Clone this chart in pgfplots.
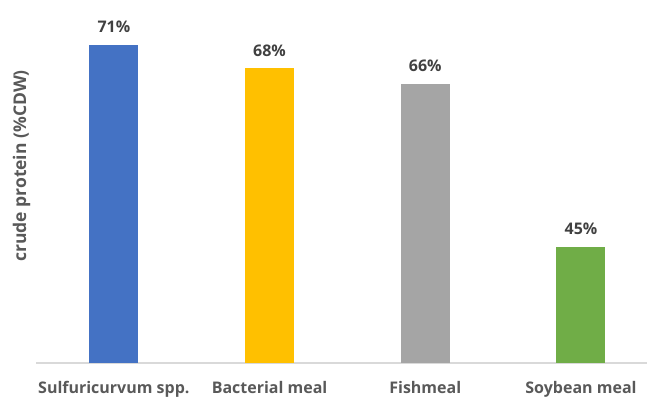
\documentclass[border=0pt]{standalone}
\usepackage{fontspec}
\setmainfont{Open Sans}
\usepackage{pgfplots}
\pgfplotsset{compat=1.18}
\definecolor{barblue}{HTML}{4472C4}
\definecolor{baryellow}{HTML}{FFC000}
\definecolor{bargray}{HTML}{A5A5A5}
\definecolor{bargreen}{HTML}{70AD47}
\definecolor{labelgray}{HTML}{595959}
\definecolor{valgray}{HTML}{404040}
\definecolor{axisgray}{HTML}{D9D9D9}
\begin{document}
\begin{tikzpicture}
\useasboundingbox (0,0) rectangle (647bp,398bp);
\begin{axis}[
  at={(36bp,35bp)}, anchor=south west,
  scale only axis, width=611bp, height=363bp,
  xmin=-0.5, xmax=3.424, ymin=30, ymax=76.8,
  axis y line=none, axis x line*=bottom,
  x axis line style={axisgray, line width=1.3bp, -},
  xtick={0,1,2,3}, major tick length=0pt,
  xticklabels={Sulfuricurvum spp., Bacterial meal, Fishmeal, Soybean meal},
  xticklabel style={font=\fontsize{16bp}{19bp}\selectfont\bfseries, text=labelgray, yshift=-15bp},
  ybar, bar width=49bp, bar shift=0pt,
  /pgf/number format/assume math mode=true,
  nodes near coords={\pgfmathprintnumber{\pgfplotspointmeta}\%},
  every node near coord/.append style={font=\fontsize{16bp}{19bp}\selectfont\bfseries, text=valgray, yshift=8.5bp},
  clip=false,
]
\addplot[draw=none, fill=barblue] coordinates {(0,71)};
\addplot[draw=none, fill=baryellow] coordinates {(1,68)};
\addplot[draw=none, fill=bargray] coordinates {(2,66)};
\addplot[draw=none, fill=bargreen] coordinates {(3,45)};
\end{axis}
\node[rotate=90, font=\fontsize{17.5bp}{21bp}\selectfont\bfseries, text=labelgray] at (21.5bp,232bp) {crude protein (\%CDW)};
\end{tikzpicture}
\end{document}
